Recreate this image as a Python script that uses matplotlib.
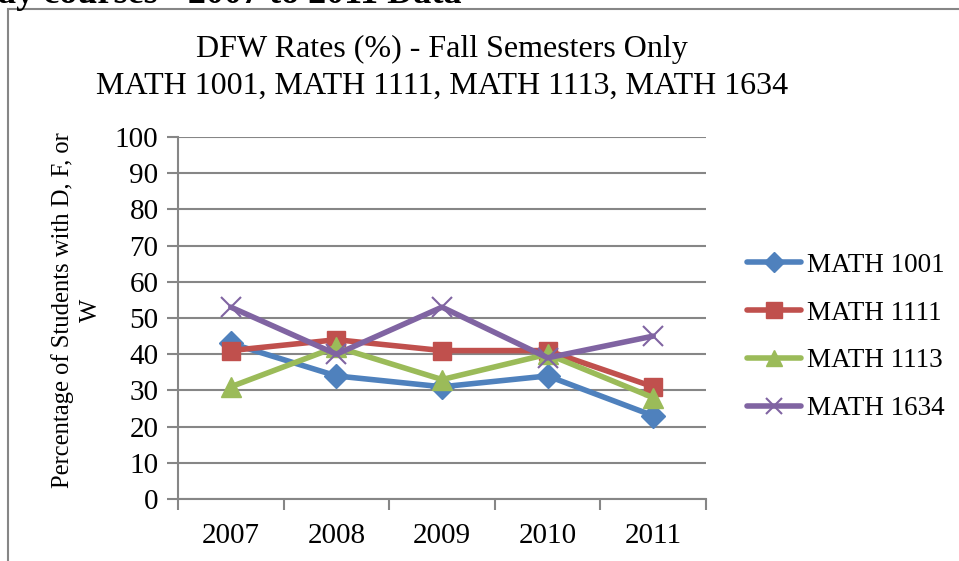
import matplotlib.pyplot as plt
from matplotlib.patches import Rectangle

years = ["2007", "2008", "2009", "2010", "2011"]
math_1001 = [43, 34, 31, 34, 23]
math_1111 = [41, 44, 41, 41, 31]
math_1113 = [31, 42, 33, 40, 28]
math_1634 = [53, 40, 53, 39, 45]

series = [
    ("MATH 1001", math_1001, "#4F81BD", "D", 12),
    ("MATH 1111", math_1111, "#C0504D", "s", 13),
    ("MATH 1113", math_1113, "#9BBB59", "^", 14),
    ("MATH 1634", math_1634, "#8064A2", "x", 14),
]

plt.rcParams['font.family'] = ['Liberation Serif', 'DejaVu Serif']
W, H = 959, 561
fig = plt.figure(figsize=(W / 100, H / 100), dpi=100)

# outer chart frame (runs off the right and bottom edges)
fig.patches.append(Rectangle((8 / W, 0 - 0.1), 1.2, 1 - 9 / H + 0.1,
                             transform=fig.transFigure, fill=False,
                             edgecolor="#868686", linewidth=1.5))
# cut-off heading above the chart
fig.text(-2 / W, 1 + 5 / H, "ay courses - 2007 to 2011 Data", fontsize=26,
         fontweight="bold", ha="left", va="center")

ax = fig.add_axes([178 / W, 1 - 499 / H, (706 - 178) / W, (499 - 137) / H])
x = list(range(len(years)))
for name, vals, color, marker, ms in series:
    if marker == "x":
        ax.plot(x, vals, color=color, linewidth=4, marker=marker, markersize=ms,
                markeredgewidth=1.5, label=name, solid_capstyle="round")
    else:
        ax.plot(x, vals, color=color, linewidth=4, marker=marker, markersize=ms,
                label=name, solid_capstyle="round")

ax.set_xlim(-0.5, 4.5)
ax.set_ylim(0, 100)
ax.set_yticks(range(0, 101, 10))
ax.set_xticks(x)
ax.set_xticklabels(years)
ax.set_xticks([i - 0.5 for i in range(6)], minor=True)
ax.tick_params(axis="x", which="major", length=0, pad=17, labelsize=21)
ax.tick_params(axis="x", which="minor", length=8, color="#868686", width=1.5)
ax.tick_params(axis="y", length=8, color="#868686", width=1.5, labelsize=21, pad=6)
ax.grid(axis="y", color="#868686", linewidth=1.5)
ax.set_axisbelow(True)
for s in ["top", "right"]:
    ax.spines[s].set_visible(False)
for s in ["left", "bottom"]:
    ax.spines[s].set_color("#868686")
    ax.spines[s].set_linewidth(1.5)

ax.set_ylabel("Percentage of Students with D, F, or\nW", fontsize=17.7,
              linespacing=1.35)
ax.yaxis.set_label_coords(-(178 - 102) / (706 - 178), (499 - 310) / (499 - 137))
ax.set_title("DFW Rates (%) - Fall Semesters Only\nMATH 1001, MATH 1111, MATH 1113, MATH 1634",
             fontsize=23, linespacing=1.35, pad=31)

ax.legend(loc="center left", bbox_to_anchor=(747 / W, 1 - 337 / H),
          bbox_transform=fig.transFigure, frameon=False, fontsize=19.5,
          borderaxespad=0, borderpad=0, markerscale=0.85,
          handlelength=2.0, handletextpad=0.2, labelspacing=0.84)

fig.savefig("out.png", dpi=100)
